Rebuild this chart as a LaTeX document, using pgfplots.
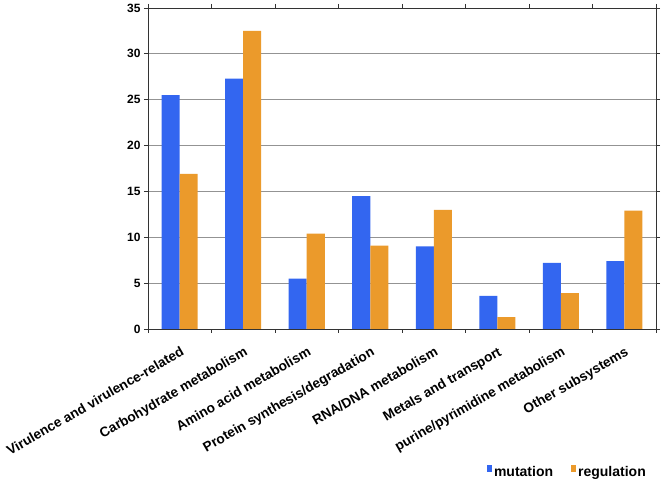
\documentclass[border=0pt]{standalone}
\usepackage{pgfplots}
\pgfplotsset{compat=1.18}
\usepackage{pgfplotstable}
\usepackage{fontspec}
\setmainfont{Liberation Sans}

\definecolor{mutblue}{RGB}{51,102,240}
\definecolor{regorange}{RGB}{235,154,43}

% subsystem shares
\pgfplotstableread{
idx mutation regulation
1 25.5 16.9
2 27.3 32.5
3 5.5 10.4
4 14.5 9.1
5 9.0 13.0
6 3.6 1.3
7 7.2 3.9
8 7.4 12.9
}\subsys

\begin{document}
\begin{tikzpicture}[font=\bfseries]
\begin{axis}[
    name=ax,
    scale only axis, width=508pt, height=321pt,
    ybar=0pt, bar width=18pt,
    xmin=0.5, xmax=8.5, ymin=0, ymax=35,
    xtick={0.5,1.5,...,8.5},
    x tick label as interval,
    xticklabels={Virulence and virulence-related, Carbohydrate metabolism,
        Amino acid metabolism, Protein synthesis/degradation, RNA/DNA metabolism,
        Metals and transport, purine/pyrimidine metabolism, Other subsystems},
    ytick={0,5,...,35},
    ymajorgrids,
    grid style={draw=gray!85, line width=0.8pt},
    axis line style={draw=black!80, line width=0.9pt},
    tick align=outside, major tick length=4pt,
    tick style={draw=black!80, line width=0.8pt},
    x tick label style={rotate=30, anchor=north east, xshift=-3pt, yshift=-8pt,
        font=\fontsize{13.6}{14}\selectfont\bfseries},
    y tick label style={font=\fontsize{12}{13}\selectfont\bfseries},
    /pgf/number format/assume math mode=true,
    legend style={at={(1,-0.4455)}, anchor=east, xshift=-8pt, draw=none, fill=none,
        legend columns=2, font=\fontsize{14}{15}\selectfont\bfseries,
        /tikz/every odd column/.append style={column sep=0pt},
        /tikz/every even column/.append style={column sep=16pt},
        inner sep=0pt},
    legend image code/.code={\fill[#1] (0pt,0pt) rectangle (5pt,7pt);},
]
\addplot[draw=none, fill=mutblue] table[x=idx, y=mutation] {\subsys};
\addlegendentry{mutation}
\addplot[draw=none, fill=regorange] table[x=idx, y=regulation] {\subsys};
\addlegendentry{regulation}
\end{axis}
\path ([xshift=-148pt,yshift=-156pt]ax.south west) rectangle ([xshift=5pt,yshift=8pt]ax.north east);
\end{tikzpicture}
\end{document}
